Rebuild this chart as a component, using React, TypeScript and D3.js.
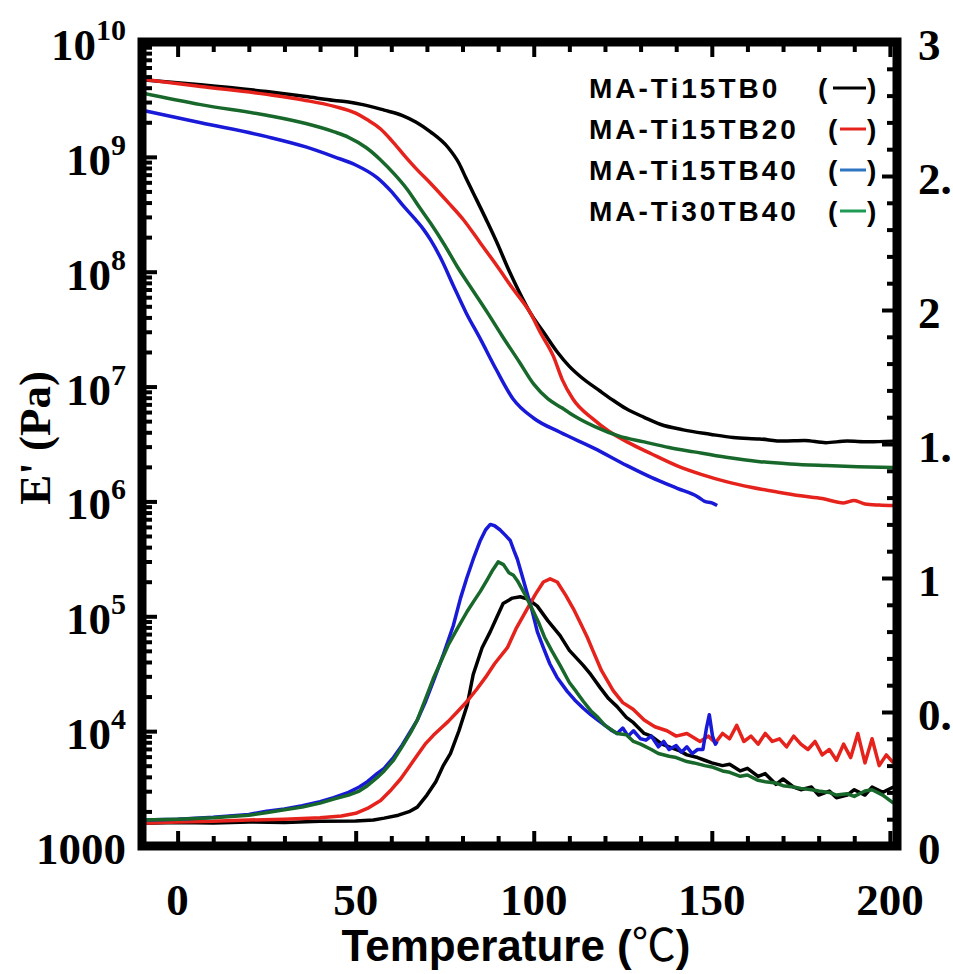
import * as d3 from "d3";
import React, { useRef, useEffect } from "react";

const width = 953;
const height = 974;
const plot = { left: 142, right: 897, top: 42, bottom: 846 };

const seriesNames = ["MA-Ti15TB0", "MA-Ti15TB20", "MA-Ti15TB40", "MA-Ti30TB40"];
const lineColors = ["#000000", "#e5221b", "#1919d8", "#17682a"];
const legendColors = ["#000000", "#e5221b", "#2f74c0", "#1f9a55"];

// axis ticks
const xDomain = [-10, 202];
const xMajorTicks = [0, 50, 100, 150, 200];
const xMinorTicks = [-10, 10, 20, 30, 40, 60, 70, 80, 90, 110, 120, 130, 140, 160, 170, 180, 190];
const modExponents = [3, 4, 5, 6, 7, 8, 9, 10];
const tanMajorTicks = [0, 0.5, 1, 1.5, 2, 2.5, 3];
const tanTickLabels = ["0", "0.5", "1", "1.5", "2", "2.5", "3"];
const tanMinorTicks = [0.1, 0.2, 0.3, 0.4, 0.6, 0.7, 0.8, 0.9, 1.1, 1.2, 1.3, 1.4, 1.6, 1.7, 1.8, 1.9, 2.1, 2.2, 2.3, 2.4, 2.6, 2.7, 2.8, 2.9];

// storage modulus E' (Pa)
const tb0ModT = [-10, 6.5, 25, 36, 44, 48, 52, 58, 63, 67, 71, 76, 79, 81, 84, 87, 90, 92.6, 96, 99, 103, 106.6, 110, 113, 118.7, 122, 126, 131, 135.5, 142, 149.5, 156, 163.5, 170, 176, 182, 188, 194, 201];
const tb0Mod = [4.7e9, 4.25e9, 3.7e9, 3.35e9, 3.1e9, 3.0e9, 2.85e9, 2.55e9, 2.3e9, 2.0e9, 1.65e9, 1.2e9, 8.8e8, 6.5e8, 4.2e8, 2.7e8, 1.7e8, 1.1e8, 6.6e7, 4.4e7, 2.9e7, 2.0e7, 1.5e7, 1.23e7, 9.1e6, 7.7e6, 6.4e6, 5.4e6, 4.7e6, 4.2e6, 3.85e6, 3.6e6, 3.5e6, 3.35e6, 3.4e6, 3.25e6, 3.35e6, 3.3e6, 3.35e6];

const tb20ModT = [-10, 6.5, 25, 36, 44, 50, 53.3, 57, 60, 64, 67.3, 71, 76, 80.2, 85, 89.8, 94, 99, 102, 105.5, 108, 111, 116.7, 121, 126.2, 133, 140.3, 147, 154.3, 161, 168.3, 175, 181, 187, 190, 193, 197, 201];
const tb20Mod = [4.75e9, 4.1e9, 3.5e9, 3.1e9, 2.75e9, 2.4e9, 2.1e9, 1.75e9, 1.4e9, 1.0e9, 7.7e8, 5.9e8, 4.0e8, 2.85e8, 1.78e8, 1.11e8, 7.2e7, 4.4e7, 2.9e7, 1.84e7, 1.15e7, 7.8e6, 5.2e6, 4.1e6, 3.3e6, 2.6e6, 2.04e6, 1.72e6, 1.48e6, 1.33e6, 1.21e6, 1.12e6, 1.06e6, 0.97e6, 1.02e6, 0.95e6, 0.93e6, 0.92e6];

const tb40ModT = [-10, 6.5, 25, 36, 44, 50, 56, 60, 63.5, 67, 69, 71, 74, 77.4, 81, 85, 89.5, 94.2, 100, 107.4, 117, 126.2, 133, 140.3, 146, 148, 150, 151.5];
const tb40Mod = [2.55e9, 1.98e9, 1.5e9, 1.22e9, 1.0e9, 8.5e8, 6.6e8, 5.0e8, 3.7e8, 2.8e8, 2.35e8, 1.9e8, 1.29e8, 7.6e7, 4.4e7, 2.6e7, 1.4e7, 7.8e6, 5.3e6, 4.0e6, 2.9e6, 2.05e6, 1.62e6, 1.3e6, 1.1e6, 1.0e6, 0.97e6, 0.92e6];

const ti30ModT = [-10, 6.5, 25, 36, 44, 48, 53, 57, 61, 64.5, 68, 71, 75, 78.5, 83, 87, 91, 96, 100, 104, 108, 112, 117, 124, 131, 138, 145, 154, 163.5, 172, 182, 191, 201];
const ti30Mod = [3.6e9, 2.85e9, 2.3e9, 1.95e9, 1.65e9, 1.48e9, 1.2e9, 9.4e8, 7.0e8, 5.2e8, 3.6e8, 2.65e8, 1.7e8, 1.11e8, 6.8e7, 4.4e7, 2.8e7, 1.63e7, 1.05e7, 7.8e6, 6.5e6, 5.4e6, 4.5e6, 3.7e6, 3.3e6, 2.95e6, 2.7e6, 2.42e6, 2.22e6, 2.12e6, 2.05e6, 2.0e6, 1.97e6];

// loss tangent tan δ
const tb0TanT = [-10, 0, 10, 20, 30, 40, 50, 55, 58, 62, 65, 67.3, 70, 72.5, 74.6, 76.6, 79, 81.3, 83, 85.5, 87.8, 89.5, 91.4, 94, 96.2, 98.5, 101, 104, 107.4, 110, 113.9, 116, 118.7, 121, 123.4, 126, 128, 131, 133, 136, 138, 141, 143, 146, 148, 150, 153, 155, 158, 160, 163, 165, 168, 170, 173, 175, 178, 180, 183, 185, 188, 190, 193, 195, 198, 201];
const tb0Tan = [0.085, 0.088, 0.086, 0.09, 0.088, 0.092, 0.093, 0.097, 0.104, 0.115, 0.128, 0.145, 0.19, 0.24, 0.3, 0.345, 0.43, 0.525, 0.64, 0.74, 0.8, 0.85, 0.905, 0.925, 0.93, 0.92, 0.895, 0.84, 0.785, 0.73, 0.674, 0.64, 0.59, 0.55, 0.52, 0.48, 0.46, 0.42, 0.41, 0.38, 0.37, 0.355, 0.34, 0.33, 0.32, 0.31, 0.3, 0.305, 0.28, 0.29, 0.26, 0.27, 0.23, 0.25, 0.22, 0.21, 0.22, 0.19, 0.205, 0.18, 0.19, 0.21, 0.19, 0.22, 0.2, 0.22];

const tb20TanT = [-10, 0, 10, 20, 30, 40, 46, 50, 53.3, 57, 60, 62.6, 65, 67.3, 69.5, 71.8, 74, 76, 78.5, 81.3, 84, 86.5, 89, 92.6, 95, 98.2, 100.5, 102.7, 104.6, 106.6, 109, 111.1, 113, 115, 116.7, 119, 122.3, 125, 127.9, 131, 134, 137.4, 140, 143, 146.7, 149, 151, 153, 155, 157, 159, 161, 163, 165, 167, 169, 171, 173, 175, 177, 179, 181, 183, 185, 187, 189, 191, 193, 195, 197, 199, 201];
const tb20Tan = [0.085, 0.09, 0.092, 0.097, 0.1, 0.105, 0.112, 0.122, 0.14, 0.17, 0.21, 0.25, 0.295, 0.339, 0.38, 0.413, 0.44, 0.465, 0.5, 0.54, 0.585, 0.63, 0.68, 0.74, 0.81, 0.886, 0.94, 0.985, 0.997, 0.985, 0.935, 0.886, 0.835, 0.78, 0.726, 0.655, 0.58, 0.535, 0.51, 0.47, 0.445, 0.43, 0.41, 0.42, 0.39, 0.41, 0.385, 0.42, 0.4, 0.45, 0.39, 0.41, 0.38, 0.42, 0.39, 0.4, 0.37, 0.41, 0.38, 0.36, 0.39, 0.34, 0.36, 0.32, 0.38, 0.33, 0.42, 0.31, 0.4, 0.3, 0.34, 0.31];

const tb40TanT = [-10, 0, 10, 20, 25, 30, 35, 40, 43.8, 48, 51, 53.3, 56, 58, 60.6, 63, 65.5, 67.3, 69.5, 71.8, 74.5, 77.4, 79.4, 81.2, 83, 85, 86.5, 87.8, 89, 90.5, 92, 93.4, 94.5, 95.4, 96.5, 98, 99.5, 101, 102.7, 104.5, 106.5, 109.4, 111.5, 113.9, 116, 118, 120, 122, 123.4, 125, 126.5, 128, 130, 131.5, 133, 135, 136.5, 138, 140, 141.5, 143, 144.5, 146, 147.5, 148.5, 149.3, 150.2, 151, 151.5];
const tb40Tan = [0.097, 0.1, 0.107, 0.118, 0.13, 0.138, 0.15, 0.165, 0.18, 0.2, 0.22, 0.24, 0.27, 0.29, 0.33, 0.375, 0.43, 0.47, 0.535, 0.614, 0.71, 0.822, 0.923, 1.0, 1.07, 1.14, 1.18, 1.2, 1.195, 1.18, 1.16, 1.14, 1.1, 1.07, 1.02, 0.95, 0.88, 0.8, 0.74, 0.68, 0.63, 0.577, 0.545, 0.514, 0.49, 0.47, 0.45, 0.43, 0.42, 0.44, 0.41, 0.43, 0.4, 0.395, 0.41, 0.37, 0.39, 0.36, 0.375, 0.35, 0.37, 0.345, 0.36, 0.36, 0.44, 0.49, 0.41, 0.38, 0.39];

const ti30TanT = [-10, 0, 10, 20, 25.2, 30, 35, 40, 43.8, 48, 51, 53.3, 56, 58, 60.6, 63, 65.5, 67.3, 69.5, 71.8, 74, 76, 78.5, 81.3, 83, 85, 87, 88.5, 90, 91.5, 93, 94.3, 95.4, 97.5, 99.9, 101.5, 103, 105, 107.4, 110, 112, 113.9, 116, 118, 120, 123.4, 126, 128, 130, 133, 135, 138, 140, 143, 145, 148, 150, 153, 155, 158, 160, 163, 165, 168, 170, 173, 175, 178, 180, 183, 185, 188, 190, 193, 195, 198, 201];
const ti30Tan = [0.097, 0.1, 0.105, 0.115, 0.125, 0.135, 0.145, 0.16, 0.175, 0.19, 0.205, 0.225, 0.255, 0.28, 0.32, 0.37, 0.425, 0.47, 0.545, 0.625, 0.69, 0.75, 0.81, 0.875, 0.91, 0.95, 0.995, 1.03, 1.06, 1.05, 1.02, 1.01, 0.99, 0.94, 0.875, 0.83, 0.78, 0.73, 0.674, 0.61, 0.575, 0.54, 0.505, 0.48, 0.45, 0.42, 0.415, 0.39, 0.38, 0.36, 0.345, 0.335, 0.33, 0.315, 0.31, 0.3, 0.295, 0.28, 0.275, 0.26, 0.265, 0.245, 0.24, 0.235, 0.225, 0.22, 0.215, 0.21, 0.205, 0.2, 0.19, 0.195, 0.185, 0.205, 0.21, 0.19, 0.16];

const modSeries = [
  [tb0ModT, tb0Mod],
  [tb20ModT, tb20Mod],
  [tb40ModT, tb40Mod],
  [ti30ModT, ti30Mod],
];
const tanSeries = [
  [tb0TanT, tb0Tan],
  [tb20TanT, tb20Tan],
  [tb40TanT, tb40Tan],
  [ti30TanT, ti30Tan],
];

const serif = "'Liberation Serif', 'Times New Roman', serif";
const sans = "'Liberation Sans', Arial, sans-serif";

const App = () => {
  const axesRef = useRef<SVGGElement>(null);

  const xScale = d3.scaleLinear().domain(xDomain).range([plot.left, plot.right]);
  const yMod = d3.scaleLog().domain([1e3, 1e10]).range([plot.bottom, plot.top]);
  const yTan = d3.scaleLinear().domain([0, 3]).range([plot.bottom, plot.top]);

  const modLine = d3
    .line<[number, number]>()
    .x((d) => xScale(d[0]))
    .y((d) => yMod(d[1]))
    .curve(d3.curveMonotoneX);
  // tan δ is noisy, keep it as straight segments
  const tanLine = d3
    .line<[number, number]>()
    .x((d) => xScale(d[0]))
    .y((d) => yTan(d[1]))
    .curve(d3.curveLinear);

  // ticks, all pointing inward
  useEffect(() => {
    const g = d3.select(axesRef.current);
    g.selectAll("*").remove();
    const clean = (sel) => {
      sel.select(".domain").remove();
      sel.selectAll(".tick text").remove();
      sel.selectAll(".tick line").attr("stroke", "#000").attr("stroke-width", 4);
    };
    const add = (axis, transform) => g.append("g").attr("transform", transform).call(axis).call(clean);

    const modMinor = yMod.ticks().filter((v) => !modExponents.some((e) => Math.abs(v - Math.pow(10, e)) < 1e-6 * v));

    add(d3.axisBottom(xScale).tickValues(xMajorTicks).tickSize(-15), `translate(0,${plot.bottom})`);
    add(d3.axisBottom(xScale).tickValues(xMinorTicks).tickSize(-10), `translate(0,${plot.bottom})`);
    add(d3.axisTop(xScale).tickValues(xMajorTicks).tickSize(-15), `translate(0,${plot.top})`);
    add(d3.axisTop(xScale).tickValues(xMinorTicks).tickSize(-10), `translate(0,${plot.top})`);
    add(d3.axisLeft(yMod).tickValues(modExponents.map((e) => Math.pow(10, e))).tickSize(-15), `translate(${plot.left},0)`);
    add(d3.axisLeft(yMod).tickValues(modMinor).tickSize(-10), `translate(${plot.left},0)`);
    add(d3.axisRight(yTan).tickValues(tanMajorTicks).tickSize(-15), `translate(${plot.right},0)`);
    add(d3.axisRight(yTan).tickValues(tanMinorTicks).tickSize(-10), `translate(${plot.right},0)`);
  }, []);

  const legendY = [98, 139, 180, 221];

  return (
    <svg
      width={width}
      height={height}
      style={{ position: "absolute", left: 0, top: 0, background: "#fff" }}
    >
      <defs>
        <clipPath id="plot-clip">
          <rect x={plot.left} y={plot.top} width={plot.right - plot.left} height={plot.bottom - plot.top} />
        </clipPath>
      </defs>

      <g clipPath="url(#plot-clip)" fill="none" strokeWidth={3.5} strokeLinejoin="round">
        {modSeries.map(([t, v], i) => (
          <path key={"m" + i} d={modLine(d3.zip(t, v) as [number, number][])} stroke={lineColors[i]} />
        ))}
        {tanSeries.map(([t, v], i) => (
          <path key={"t" + i} d={tanLine(d3.zip(t, v) as [number, number][])} stroke={lineColors[i]} />
        ))}
      </g>

      <g ref={axesRef} />
      <rect
        x={plot.left}
        y={plot.top}
        width={plot.right - plot.left}
        height={plot.bottom - plot.top}
        fill="none"
        stroke="#000"
        strokeWidth={9}
      />

      {/* left axis labels */}
      <g fontFamily={serif} fontWeight="bold" fontSize={45} fill="#000">
        {modExponents.map((e) => (
          <text key={e} textAnchor="end" x={126} y={yMod(Math.pow(10, e)) + 18}>
            {e === 3 ? (
              "1000"
            ) : (
              <>
                10
                <tspan fontSize={30} dy={-20}>
                  {e}
                </tspan>
              </>
            )}
          </text>
        ))}
      </g>

      {/* right axis labels (cut by the image edge, as in the source) */}
      <g fontFamily={serif} fontWeight="bold" fontSize={45} fill="#000">
        {tanMajorTicks.map((v, i) => (
          <text key={v} x={918} y={yTan(v) + 18}>
            {tanTickLabels[i]}
          </text>
        ))}
      </g>

      {/* bottom axis labels */}
      <g fontFamily={serif} fontWeight="bold" fontSize={45} fill="#000">
        {xMajorTicks.map((v) => (
          <text key={v} textAnchor="middle" x={xScale(v)} y={plot.bottom + 69}>
            {v}
          </text>
        ))}
      </g>

      {/* axis titles */}
      <text
        transform={`translate(50,438) rotate(-90)`}
        textAnchor="middle"
        fontFamily={serif}
        fontWeight="bold"
        fontSize={45}
      >
        E' (Pa)
      </text>
      <text x={516} y={961} textAnchor="middle" fontFamily={sans} fontWeight="bold" fontSize={44}>
        Temperature (
        <tspan fontFamily="'Noto Sans CJK JP', sans-serif" fontWeight="normal">
          ℃
        </tspan>
        )
      </text>

      {/* legend */}
      <g fontFamily={sans} fontWeight="bold" fontSize={28} fill="#000">
        {seriesNames.map((name, i) => (
          <g key={name}>
            <text x={589} y={legendY[i]} letterSpacing={3}>
              {name}
            </text>
            <text x={i === 0 ? 818 : 828} y={legendY[i]}>
              (
            </text>
            <line
              x1={i === 0 ? 833 : 840}
              x2={866}
              y1={legendY[i] - 10}
              y2={legendY[i] - 10}
              stroke={legendColors[i]}
              strokeWidth={3}
            />
            <text x={867} y={legendY[i]}>
              )
            </text>
          </g>
        ))}
      </g>
    </svg>
  );
};

export default App;
